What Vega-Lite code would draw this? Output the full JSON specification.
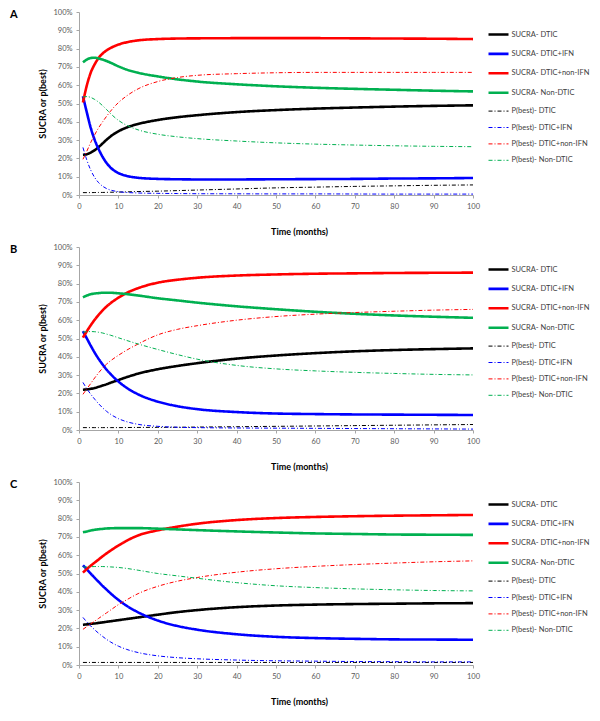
{
"$schema": "https://vega.github.io/schema/vega-lite/v6.json",
"padding": {"left": 10, "top": 8, "right": 0, "bottom": 0},
"spacing": 6,
"data": {"values": [
{"panel":"A","series":"SUCRA- DTIC","t":1,"v":22},{"panel":"A","series":"SUCRA- DTIC","t":2,"v":22.3},{"panel":"A","series":"SUCRA- DTIC","t":3,"v":23.2},{"panel":"A","series":"SUCRA- DTIC","t":4,"v":24.5},{"panel":"A","series":"SUCRA- DTIC","t":5,"v":26.2},{"panel":"A","series":"SUCRA- DTIC","t":6,"v":28.2},{"panel":"A","series":"SUCRA- DTIC","t":7,"v":30.2},{"panel":"A","series":"SUCRA- DTIC","t":8,"v":32},{"panel":"A","series":"SUCRA- DTIC","t":10,"v":34.8},{"panel":"A","series":"SUCRA- DTIC","t":12,"v":36.8},{"panel":"A","series":"SUCRA- DTIC","t":15,"v":38.8},{"panel":"A","series":"SUCRA- DTIC","t":20,"v":41},{"panel":"A","series":"SUCRA- DTIC","t":25,"v":42.5},{"panel":"A","series":"SUCRA- DTIC","t":30,"v":43.6},{"panel":"A","series":"SUCRA- DTIC","t":40,"v":45.3},{"panel":"A","series":"SUCRA- DTIC","t":50,"v":46.4},{"panel":"A","series":"SUCRA- DTIC","t":60,"v":47.2},{"panel":"A","series":"SUCRA- DTIC","t":70,"v":47.8},{"panel":"A","series":"SUCRA- DTIC","t":80,"v":48.3},{"panel":"A","series":"SUCRA- DTIC","t":90,"v":48.7},{"panel":"A","series":"SUCRA- DTIC","t":100,"v":49},
{"panel":"A","series":"SUCRA- DTIC+IFN","t":1,"v":54},{"panel":"A","series":"SUCRA- DTIC+IFN","t":2,"v":45},{"panel":"A","series":"SUCRA- DTIC+IFN","t":3,"v":36.5},{"panel":"A","series":"SUCRA- DTIC+IFN","t":4,"v":30},{"panel":"A","series":"SUCRA- DTIC+IFN","t":5,"v":25},{"panel":"A","series":"SUCRA- DTIC+IFN","t":6,"v":20.8},{"panel":"A","series":"SUCRA- DTIC+IFN","t":7,"v":17.5},{"panel":"A","series":"SUCRA- DTIC+IFN","t":8,"v":15},{"panel":"A","series":"SUCRA- DTIC+IFN","t":10,"v":12},{"panel":"A","series":"SUCRA- DTIC+IFN","t":12,"v":10.5},{"panel":"A","series":"SUCRA- DTIC+IFN","t":15,"v":9.4},{"panel":"A","series":"SUCRA- DTIC+IFN","t":20,"v":8.8},{"panel":"A","series":"SUCRA- DTIC+IFN","t":25,"v":8.6},{"panel":"A","series":"SUCRA- DTIC+IFN","t":30,"v":8.5},{"panel":"A","series":"SUCRA- DTIC+IFN","t":40,"v":8.5},{"panel":"A","series":"SUCRA- DTIC+IFN","t":50,"v":8.6},{"panel":"A","series":"SUCRA- DTIC+IFN","t":60,"v":8.7},{"panel":"A","series":"SUCRA- DTIC+IFN","t":70,"v":8.8},{"panel":"A","series":"SUCRA- DTIC+IFN","t":80,"v":9},{"panel":"A","series":"SUCRA- DTIC+IFN","t":90,"v":9.1},{"panel":"A","series":"SUCRA- DTIC+IFN","t":100,"v":9.3},
{"panel":"A","series":"SUCRA- DTIC+non-IFN","t":1,"v":50.5},{"panel":"A","series":"SUCRA- DTIC+non-IFN","t":2,"v":60},{"panel":"A","series":"SUCRA- DTIC+non-IFN","t":3,"v":67},{"panel":"A","series":"SUCRA- DTIC+non-IFN","t":4,"v":71.5},{"panel":"A","series":"SUCRA- DTIC+non-IFN","t":5,"v":75},{"panel":"A","series":"SUCRA- DTIC+non-IFN","t":6,"v":77.3},{"panel":"A","series":"SUCRA- DTIC+non-IFN","t":7,"v":79},{"panel":"A","series":"SUCRA- DTIC+non-IFN","t":8,"v":80.3},{"panel":"A","series":"SUCRA- DTIC+non-IFN","t":10,"v":82.2},{"panel":"A","series":"SUCRA- DTIC+non-IFN","t":12,"v":83.4},{"panel":"A","series":"SUCRA- DTIC+non-IFN","t":15,"v":84.5},{"panel":"A","series":"SUCRA- DTIC+non-IFN","t":20,"v":85.2},{"panel":"A","series":"SUCRA- DTIC+non-IFN","t":25,"v":85.5},{"panel":"A","series":"SUCRA- DTIC+non-IFN","t":30,"v":85.6},{"panel":"A","series":"SUCRA- DTIC+non-IFN","t":40,"v":85.7},{"panel":"A","series":"SUCRA- DTIC+non-IFN","t":50,"v":85.7},{"panel":"A","series":"SUCRA- DTIC+non-IFN","t":60,"v":85.7},{"panel":"A","series":"SUCRA- DTIC+non-IFN","t":70,"v":85.6},{"panel":"A","series":"SUCRA- DTIC+non-IFN","t":80,"v":85.5},{"panel":"A","series":"SUCRA- DTIC+non-IFN","t":90,"v":85.4},{"panel":"A","series":"SUCRA- DTIC+non-IFN","t":100,"v":85.2},
{"panel":"A","series":"SUCRA- Non-DTIC","t":1,"v":72.5},{"panel":"A","series":"SUCRA- Non-DTIC","t":2,"v":74},{"panel":"A","series":"SUCRA- Non-DTIC","t":3,"v":74.9},{"panel":"A","series":"SUCRA- Non-DTIC","t":4,"v":75},{"panel":"A","series":"SUCRA- Non-DTIC","t":5,"v":74.6},{"panel":"A","series":"SUCRA- Non-DTIC","t":6,"v":74},{"panel":"A","series":"SUCRA- Non-DTIC","t":7,"v":73.2},{"panel":"A","series":"SUCRA- Non-DTIC","t":8,"v":72.3},{"panel":"A","series":"SUCRA- Non-DTIC","t":10,"v":70.3},{"panel":"A","series":"SUCRA- Non-DTIC","t":12,"v":68.6},{"panel":"A","series":"SUCRA- Non-DTIC","t":15,"v":66.8},{"panel":"A","series":"SUCRA- Non-DTIC","t":20,"v":64.8},{"panel":"A","series":"SUCRA- Non-DTIC","t":25,"v":63.2},{"panel":"A","series":"SUCRA- Non-DTIC","t":30,"v":62},{"panel":"A","series":"SUCRA- Non-DTIC","t":40,"v":60.5},{"panel":"A","series":"SUCRA- Non-DTIC","t":50,"v":59.4},{"panel":"A","series":"SUCRA- Non-DTIC","t":60,"v":58.6},{"panel":"A","series":"SUCRA- Non-DTIC","t":70,"v":58},{"panel":"A","series":"SUCRA- Non-DTIC","t":80,"v":57.5},{"panel":"A","series":"SUCRA- Non-DTIC","t":90,"v":57},{"panel":"A","series":"SUCRA- Non-DTIC","t":100,"v":56.6},
{"panel":"A","series":"P(best)- DTIC","t":1,"v":1.3},{"panel":"A","series":"P(best)- DTIC","t":2,"v":1.3},{"panel":"A","series":"P(best)- DTIC","t":3,"v":1.3},{"panel":"A","series":"P(best)- DTIC","t":4,"v":1.35},{"panel":"A","series":"P(best)- DTIC","t":5,"v":1.4},{"panel":"A","series":"P(best)- DTIC","t":6,"v":1.4},{"panel":"A","series":"P(best)- DTIC","t":7,"v":1.45},{"panel":"A","series":"P(best)- DTIC","t":8,"v":1.5},{"panel":"A","series":"P(best)- DTIC","t":10,"v":1.6},{"panel":"A","series":"P(best)- DTIC","t":12,"v":1.7},{"panel":"A","series":"P(best)- DTIC","t":15,"v":1.9},{"panel":"A","series":"P(best)- DTIC","t":20,"v":2.1},{"panel":"A","series":"P(best)- DTIC","t":25,"v":2.4},{"panel":"A","series":"P(best)- DTIC","t":30,"v":2.7},{"panel":"A","series":"P(best)- DTIC","t":40,"v":3.3},{"panel":"A","series":"P(best)- DTIC","t":50,"v":3.9},{"panel":"A","series":"P(best)- DTIC","t":60,"v":4.3},{"panel":"A","series":"P(best)- DTIC","t":70,"v":4.7},{"panel":"A","series":"P(best)- DTIC","t":80,"v":5},{"panel":"A","series":"P(best)- DTIC","t":90,"v":5.3},{"panel":"A","series":"P(best)- DTIC","t":100,"v":5.5},
{"panel":"A","series":"P(best)- DTIC+IFN","t":1,"v":26},{"panel":"A","series":"P(best)- DTIC+IFN","t":2,"v":19},{"panel":"A","series":"P(best)- DTIC+IFN","t":3,"v":13.5},{"panel":"A","series":"P(best)- DTIC+IFN","t":4,"v":9.5},{"panel":"A","series":"P(best)- DTIC+IFN","t":5,"v":6.7},{"panel":"A","series":"P(best)- DTIC+IFN","t":6,"v":4.8},{"panel":"A","series":"P(best)- DTIC+IFN","t":7,"v":3.5},{"panel":"A","series":"P(best)- DTIC+IFN","t":8,"v":2.7},{"panel":"A","series":"P(best)- DTIC+IFN","t":10,"v":1.8},{"panel":"A","series":"P(best)- DTIC+IFN","t":12,"v":1.4},{"panel":"A","series":"P(best)- DTIC+IFN","t":15,"v":1.1},{"panel":"A","series":"P(best)- DTIC+IFN","t":20,"v":0.9},{"panel":"A","series":"P(best)- DTIC+IFN","t":25,"v":0.8},{"panel":"A","series":"P(best)- DTIC+IFN","t":30,"v":0.7},{"panel":"A","series":"P(best)- DTIC+IFN","t":40,"v":0.65},{"panel":"A","series":"P(best)- DTIC+IFN","t":50,"v":0.6},{"panel":"A","series":"P(best)- DTIC+IFN","t":60,"v":0.6},{"panel":"A","series":"P(best)- DTIC+IFN","t":70,"v":0.55},{"panel":"A","series":"P(best)- DTIC+IFN","t":80,"v":0.5},{"panel":"A","series":"P(best)- DTIC+IFN","t":90,"v":0.5},{"panel":"A","series":"P(best)- DTIC+IFN","t":100,"v":0.5},
{"panel":"A","series":"P(best)- DTIC+non-IFN","t":1,"v":19.5},{"panel":"A","series":"P(best)- DTIC+non-IFN","t":2,"v":24},{"panel":"A","series":"P(best)- DTIC+non-IFN","t":3,"v":28.8},{"panel":"A","series":"P(best)- DTIC+non-IFN","t":4,"v":33},{"panel":"A","series":"P(best)- DTIC+non-IFN","t":5,"v":36.8},{"panel":"A","series":"P(best)- DTIC+non-IFN","t":6,"v":40},{"panel":"A","series":"P(best)- DTIC+non-IFN","t":7,"v":43},{"panel":"A","series":"P(best)- DTIC+non-IFN","t":8,"v":45.8},{"panel":"A","series":"P(best)- DTIC+non-IFN","t":10,"v":50.5},{"panel":"A","series":"P(best)- DTIC+non-IFN","t":12,"v":54},{"panel":"A","series":"P(best)- DTIC+non-IFN","t":15,"v":58},{"panel":"A","series":"P(best)- DTIC+non-IFN","t":20,"v":62},{"panel":"A","series":"P(best)- DTIC+non-IFN","t":25,"v":64.2},{"panel":"A","series":"P(best)- DTIC+non-IFN","t":30,"v":65.4},{"panel":"A","series":"P(best)- DTIC+non-IFN","t":40,"v":66.3},{"panel":"A","series":"P(best)- DTIC+non-IFN","t":50,"v":66.8},{"panel":"A","series":"P(best)- DTIC+non-IFN","t":60,"v":67},{"panel":"A","series":"P(best)- DTIC+non-IFN","t":70,"v":67},{"panel":"A","series":"P(best)- DTIC+non-IFN","t":80,"v":67},{"panel":"A","series":"P(best)- DTIC+non-IFN","t":90,"v":67},{"panel":"A","series":"P(best)- DTIC+non-IFN","t":100,"v":67},
{"panel":"A","series":"P(best)- Non-DTIC","t":1,"v":53.5},{"panel":"A","series":"P(best)- Non-DTIC","t":2,"v":53.8},{"panel":"A","series":"P(best)- Non-DTIC","t":3,"v":53.3},{"panel":"A","series":"P(best)- Non-DTIC","t":4,"v":52.2},{"panel":"A","series":"P(best)- Non-DTIC","t":5,"v":50.7},{"panel":"A","series":"P(best)- Non-DTIC","t":6,"v":48.8},{"panel":"A","series":"P(best)- Non-DTIC","t":7,"v":46.7},{"panel":"A","series":"P(best)- Non-DTIC","t":8,"v":44.5},{"panel":"A","series":"P(best)- Non-DTIC","t":10,"v":40.8},{"panel":"A","series":"P(best)- Non-DTIC","t":12,"v":38.2},{"panel":"A","series":"P(best)- Non-DTIC","t":15,"v":35.6},{"panel":"A","series":"P(best)- Non-DTIC","t":20,"v":33.2},{"panel":"A","series":"P(best)- Non-DTIC","t":25,"v":31.8},{"panel":"A","series":"P(best)- Non-DTIC","t":30,"v":30.8},{"panel":"A","series":"P(best)- Non-DTIC","t":40,"v":29.5},{"panel":"A","series":"P(best)- Non-DTIC","t":50,"v":28.5},{"panel":"A","series":"P(best)- Non-DTIC","t":60,"v":27.8},{"panel":"A","series":"P(best)- Non-DTIC","t":70,"v":27.3},{"panel":"A","series":"P(best)- Non-DTIC","t":80,"v":26.9},{"panel":"A","series":"P(best)- Non-DTIC","t":90,"v":26.6},{"panel":"A","series":"P(best)- Non-DTIC","t":100,"v":26.4},
{"panel":"B","series":"SUCRA- DTIC","t":1,"v":22},{"panel":"B","series":"SUCRA- DTIC","t":2,"v":22.2},{"panel":"B","series":"SUCRA- DTIC","t":3,"v":22.5},{"panel":"B","series":"SUCRA- DTIC","t":4,"v":23},{"panel":"B","series":"SUCRA- DTIC","t":5,"v":23.6},{"panel":"B","series":"SUCRA- DTIC","t":6,"v":24.3},{"panel":"B","series":"SUCRA- DTIC","t":7,"v":25},{"panel":"B","series":"SUCRA- DTIC","t":8,"v":25.8},{"panel":"B","series":"SUCRA- DTIC","t":10,"v":27.3},{"panel":"B","series":"SUCRA- DTIC","t":12,"v":28.8},{"panel":"B","series":"SUCRA- DTIC","t":15,"v":30.8},{"panel":"B","series":"SUCRA- DTIC","t":20,"v":33.2},{"panel":"B","series":"SUCRA- DTIC","t":25,"v":35},{"panel":"B","series":"SUCRA- DTIC","t":30,"v":36.5},{"panel":"B","series":"SUCRA- DTIC","t":40,"v":39},{"panel":"B","series":"SUCRA- DTIC","t":50,"v":40.7},{"panel":"B","series":"SUCRA- DTIC","t":60,"v":42},{"panel":"B","series":"SUCRA- DTIC","t":70,"v":43},{"panel":"B","series":"SUCRA- DTIC","t":80,"v":43.7},{"panel":"B","series":"SUCRA- DTIC","t":90,"v":44.2},{"panel":"B","series":"SUCRA- DTIC","t":100,"v":44.6},
{"panel":"B","series":"SUCRA- DTIC+IFN","t":1,"v":54},{"panel":"B","series":"SUCRA- DTIC+IFN","t":2,"v":50},{"panel":"B","series":"SUCRA- DTIC+IFN","t":3,"v":46},{"panel":"B","series":"SUCRA- DTIC+IFN","t":4,"v":42.2},{"panel":"B","series":"SUCRA- DTIC+IFN","t":5,"v":38.8},{"panel":"B","series":"SUCRA- DTIC+IFN","t":6,"v":35.8},{"panel":"B","series":"SUCRA- DTIC+IFN","t":7,"v":33},{"panel":"B","series":"SUCRA- DTIC+IFN","t":8,"v":30.6},{"panel":"B","series":"SUCRA- DTIC+IFN","t":10,"v":26.5},{"panel":"B","series":"SUCRA- DTIC+IFN","t":12,"v":23.2},{"panel":"B","series":"SUCRA- DTIC+IFN","t":15,"v":19.5},{"panel":"B","series":"SUCRA- DTIC+IFN","t":20,"v":15.5},{"panel":"B","series":"SUCRA- DTIC+IFN","t":25,"v":13},{"panel":"B","series":"SUCRA- DTIC+IFN","t":30,"v":11.4},{"panel":"B","series":"SUCRA- DTIC+IFN","t":40,"v":9.8},{"panel":"B","series":"SUCRA- DTIC+IFN","t":50,"v":9},{"panel":"B","series":"SUCRA- DTIC+IFN","t":60,"v":8.7},{"panel":"B","series":"SUCRA- DTIC+IFN","t":70,"v":8.5},{"panel":"B","series":"SUCRA- DTIC+IFN","t":80,"v":8.4},{"panel":"B","series":"SUCRA- DTIC+IFN","t":90,"v":8.3},{"panel":"B","series":"SUCRA- DTIC+IFN","t":100,"v":8.2},
{"panel":"B","series":"SUCRA- DTIC+non-IFN","t":1,"v":50.5},{"panel":"B","series":"SUCRA- DTIC+non-IFN","t":2,"v":54},{"panel":"B","series":"SUCRA- DTIC+non-IFN","t":3,"v":57.3},{"panel":"B","series":"SUCRA- DTIC+non-IFN","t":4,"v":60.3},{"panel":"B","series":"SUCRA- DTIC+non-IFN","t":5,"v":63},{"panel":"B","series":"SUCRA- DTIC+non-IFN","t":6,"v":65.4},{"panel":"B","series":"SUCRA- DTIC+non-IFN","t":7,"v":67.5},{"panel":"B","series":"SUCRA- DTIC+non-IFN","t":8,"v":69.3},{"panel":"B","series":"SUCRA- DTIC+non-IFN","t":10,"v":72.3},{"panel":"B","series":"SUCRA- DTIC+non-IFN","t":12,"v":74.8},{"panel":"B","series":"SUCRA- DTIC+non-IFN","t":15,"v":77.5},{"panel":"B","series":"SUCRA- DTIC+non-IFN","t":20,"v":80.5},{"panel":"B","series":"SUCRA- DTIC+non-IFN","t":25,"v":82.1},{"panel":"B","series":"SUCRA- DTIC+non-IFN","t":30,"v":83.2},{"panel":"B","series":"SUCRA- DTIC+non-IFN","t":40,"v":84.4},{"panel":"B","series":"SUCRA- DTIC+non-IFN","t":50,"v":85},{"panel":"B","series":"SUCRA- DTIC+non-IFN","t":60,"v":85.4},{"panel":"B","series":"SUCRA- DTIC+non-IFN","t":70,"v":85.6},{"panel":"B","series":"SUCRA- DTIC+non-IFN","t":80,"v":85.8},{"panel":"B","series":"SUCRA- DTIC+non-IFN","t":90,"v":85.9},{"panel":"B","series":"SUCRA- DTIC+non-IFN","t":100,"v":86},
{"panel":"B","series":"SUCRA- Non-DTIC","t":1,"v":72.5},{"panel":"B","series":"SUCRA- Non-DTIC","t":2,"v":73.5},{"panel":"B","series":"SUCRA- Non-DTIC","t":3,"v":74.2},{"panel":"B","series":"SUCRA- Non-DTIC","t":4,"v":74.6},{"panel":"B","series":"SUCRA- Non-DTIC","t":5,"v":74.8},{"panel":"B","series":"SUCRA- Non-DTIC","t":6,"v":75},{"panel":"B","series":"SUCRA- Non-DTIC","t":7,"v":75},{"panel":"B","series":"SUCRA- Non-DTIC","t":8,"v":75},{"panel":"B","series":"SUCRA- Non-DTIC","t":10,"v":74.7},{"panel":"B","series":"SUCRA- Non-DTIC","t":12,"v":74.3},{"panel":"B","series":"SUCRA- Non-DTIC","t":15,"v":73.5},{"panel":"B","series":"SUCRA- Non-DTIC","t":20,"v":72},{"panel":"B","series":"SUCRA- Non-DTIC","t":25,"v":70.8},{"panel":"B","series":"SUCRA- Non-DTIC","t":30,"v":69.6},{"panel":"B","series":"SUCRA- Non-DTIC","t":40,"v":67.6},{"panel":"B","series":"SUCRA- Non-DTIC","t":50,"v":66},{"panel":"B","series":"SUCRA- Non-DTIC","t":60,"v":64.6},{"panel":"B","series":"SUCRA- Non-DTIC","t":70,"v":63.5},{"panel":"B","series":"SUCRA- Non-DTIC","t":80,"v":62.6},{"panel":"B","series":"SUCRA- Non-DTIC","t":90,"v":61.9},{"panel":"B","series":"SUCRA- Non-DTIC","t":100,"v":61.3},
{"panel":"B","series":"P(best)- DTIC","t":1,"v":1.3},{"panel":"B","series":"P(best)- DTIC","t":2,"v":1.3},{"panel":"B","series":"P(best)- DTIC","t":3,"v":1.3},{"panel":"B","series":"P(best)- DTIC","t":4,"v":1.3},{"panel":"B","series":"P(best)- DTIC","t":5,"v":1.3},{"panel":"B","series":"P(best)- DTIC","t":6,"v":1.3},{"panel":"B","series":"P(best)- DTIC","t":7,"v":1.3},{"panel":"B","series":"P(best)- DTIC","t":8,"v":1.3},{"panel":"B","series":"P(best)- DTIC","t":10,"v":1.3},{"panel":"B","series":"P(best)- DTIC","t":12,"v":1.35},{"panel":"B","series":"P(best)- DTIC","t":15,"v":1.4},{"panel":"B","series":"P(best)- DTIC","t":20,"v":1.45},{"panel":"B","series":"P(best)- DTIC","t":25,"v":1.5},{"panel":"B","series":"P(best)- DTIC","t":30,"v":1.6},{"panel":"B","series":"P(best)- DTIC","t":40,"v":1.8},{"panel":"B","series":"P(best)- DTIC","t":50,"v":2},{"panel":"B","series":"P(best)- DTIC","t":60,"v":2.2},{"panel":"B","series":"P(best)- DTIC","t":70,"v":2.4},{"panel":"B","series":"P(best)- DTIC","t":80,"v":2.6},{"panel":"B","series":"P(best)- DTIC","t":90,"v":2.8},{"panel":"B","series":"P(best)- DTIC","t":100,"v":3},
{"panel":"B","series":"P(best)- DTIC+IFN","t":1,"v":26},{"panel":"B","series":"P(best)- DTIC+IFN","t":2,"v":22.5},{"panel":"B","series":"P(best)- DTIC+IFN","t":3,"v":19.5},{"panel":"B","series":"P(best)- DTIC+IFN","t":4,"v":16.8},{"panel":"B","series":"P(best)- DTIC+IFN","t":5,"v":14.3},{"panel":"B","series":"P(best)- DTIC+IFN","t":6,"v":12.1},{"panel":"B","series":"P(best)- DTIC+IFN","t":7,"v":10.2},{"panel":"B","series":"P(best)- DTIC+IFN","t":8,"v":8.6},{"panel":"B","series":"P(best)- DTIC+IFN","t":10,"v":6.2},{"panel":"B","series":"P(best)- DTIC+IFN","t":12,"v":4.6},{"panel":"B","series":"P(best)- DTIC+IFN","t":15,"v":3.1},{"panel":"B","series":"P(best)- DTIC+IFN","t":20,"v":2},{"panel":"B","series":"P(best)- DTIC+IFN","t":25,"v":1.5},{"panel":"B","series":"P(best)- DTIC+IFN","t":30,"v":1.3},{"panel":"B","series":"P(best)- DTIC+IFN","t":40,"v":1.1},{"panel":"B","series":"P(best)- DTIC+IFN","t":50,"v":1},{"panel":"B","series":"P(best)- DTIC+IFN","t":60,"v":0.9},{"panel":"B","series":"P(best)- DTIC+IFN","t":70,"v":0.8},{"panel":"B","series":"P(best)- DTIC+IFN","t":80,"v":0.7},{"panel":"B","series":"P(best)- DTIC+IFN","t":90,"v":0.6},{"panel":"B","series":"P(best)- DTIC+IFN","t":100,"v":0.5},
{"panel":"B","series":"P(best)- DTIC+non-IFN","t":1,"v":19.5},{"panel":"B","series":"P(best)- DTIC+non-IFN","t":2,"v":22.5},{"panel":"B","series":"P(best)- DTIC+non-IFN","t":3,"v":25.5},{"panel":"B","series":"P(best)- DTIC+non-IFN","t":4,"v":28.5},{"panel":"B","series":"P(best)- DTIC+non-IFN","t":5,"v":31.3},{"panel":"B","series":"P(best)- DTIC+non-IFN","t":6,"v":33.8},{"panel":"B","series":"P(best)- DTIC+non-IFN","t":7,"v":36},{"panel":"B","series":"P(best)- DTIC+non-IFN","t":8,"v":37.8},{"panel":"B","series":"P(best)- DTIC+non-IFN","t":10,"v":40.8},{"panel":"B","series":"P(best)- DTIC+non-IFN","t":12,"v":43.5},{"panel":"B","series":"P(best)- DTIC+non-IFN","t":15,"v":47},{"panel":"B","series":"P(best)- DTIC+non-IFN","t":20,"v":52},{"panel":"B","series":"P(best)- DTIC+non-IFN","t":25,"v":55},{"panel":"B","series":"P(best)- DTIC+non-IFN","t":30,"v":57},{"panel":"B","series":"P(best)- DTIC+non-IFN","t":40,"v":60},{"panel":"B","series":"P(best)- DTIC+non-IFN","t":50,"v":62},{"panel":"B","series":"P(best)- DTIC+non-IFN","t":60,"v":63.3},{"panel":"B","series":"P(best)- DTIC+non-IFN","t":70,"v":64.2},{"panel":"B","series":"P(best)- DTIC+non-IFN","t":80,"v":64.9},{"panel":"B","series":"P(best)- DTIC+non-IFN","t":90,"v":65.5},{"panel":"B","series":"P(best)- DTIC+non-IFN","t":100,"v":65.9},
{"panel":"B","series":"P(best)- Non-DTIC","t":1,"v":53.5},{"panel":"B","series":"P(best)- Non-DTIC","t":2,"v":53.7},{"panel":"B","series":"P(best)- Non-DTIC","t":3,"v":53.8},{"panel":"B","series":"P(best)- Non-DTIC","t":4,"v":53.7},{"panel":"B","series":"P(best)- Non-DTIC","t":5,"v":53.4},{"panel":"B","series":"P(best)- Non-DTIC","t":6,"v":53},{"panel":"B","series":"P(best)- Non-DTIC","t":7,"v":52.4},{"panel":"B","series":"P(best)- Non-DTIC","t":8,"v":51.8},{"panel":"B","series":"P(best)- Non-DTIC","t":10,"v":50.4},{"panel":"B","series":"P(best)- Non-DTIC","t":12,"v":49},{"panel":"B","series":"P(best)- Non-DTIC","t":15,"v":47},{"panel":"B","series":"P(best)- Non-DTIC","t":20,"v":44},{"panel":"B","series":"P(best)- Non-DTIC","t":25,"v":41.2},{"panel":"B","series":"P(best)- Non-DTIC","t":30,"v":38.7},{"panel":"B","series":"P(best)- Non-DTIC","t":40,"v":35.3},{"panel":"B","series":"P(best)- Non-DTIC","t":50,"v":33.4},{"panel":"B","series":"P(best)- Non-DTIC","t":60,"v":32.3},{"panel":"B","series":"P(best)- Non-DTIC","t":70,"v":31.5},{"panel":"B","series":"P(best)- Non-DTIC","t":80,"v":30.9},{"panel":"B","series":"P(best)- Non-DTIC","t":90,"v":30.4},{"panel":"B","series":"P(best)- Non-DTIC","t":100,"v":30.1},
{"panel":"C","series":"SUCRA- DTIC","t":1,"v":22},{"panel":"C","series":"SUCRA- DTIC","t":2,"v":22.2},{"panel":"C","series":"SUCRA- DTIC","t":3,"v":22.5},{"panel":"C","series":"SUCRA- DTIC","t":4,"v":22.7},{"panel":"C","series":"SUCRA- DTIC","t":5,"v":23},{"panel":"C","series":"SUCRA- DTIC","t":6,"v":23.3},{"panel":"C","series":"SUCRA- DTIC","t":7,"v":23.6},{"panel":"C","series":"SUCRA- DTIC","t":8,"v":23.9},{"panel":"C","series":"SUCRA- DTIC","t":10,"v":24.5},{"panel":"C","series":"SUCRA- DTIC","t":12,"v":25.1},{"panel":"C","series":"SUCRA- DTIC","t":15,"v":26},{"panel":"C","series":"SUCRA- DTIC","t":20,"v":27.5},{"panel":"C","series":"SUCRA- DTIC","t":25,"v":28.9},{"panel":"C","series":"SUCRA- DTIC","t":30,"v":30},{"panel":"C","series":"SUCRA- DTIC","t":40,"v":31.6},{"panel":"C","series":"SUCRA- DTIC","t":50,"v":32.5},{"panel":"C","series":"SUCRA- DTIC","t":60,"v":33},{"panel":"C","series":"SUCRA- DTIC","t":70,"v":33.3},{"panel":"C","series":"SUCRA- DTIC","t":80,"v":33.5},{"panel":"C","series":"SUCRA- DTIC","t":90,"v":33.7},{"panel":"C","series":"SUCRA- DTIC","t":100,"v":33.8},
{"panel":"C","series":"SUCRA- DTIC+IFN","t":1,"v":54.5},{"panel":"C","series":"SUCRA- DTIC+IFN","t":2,"v":52.2},{"panel":"C","series":"SUCRA- DTIC+IFN","t":3,"v":49.9},{"panel":"C","series":"SUCRA- DTIC+IFN","t":4,"v":47.6},{"panel":"C","series":"SUCRA- DTIC+IFN","t":5,"v":45.4},{"panel":"C","series":"SUCRA- DTIC+IFN","t":6,"v":43.2},{"panel":"C","series":"SUCRA- DTIC+IFN","t":7,"v":41.2},{"panel":"C","series":"SUCRA- DTIC+IFN","t":8,"v":39.2},{"panel":"C","series":"SUCRA- DTIC+IFN","t":10,"v":35.6},{"panel":"C","series":"SUCRA- DTIC+IFN","t":12,"v":32.5},{"panel":"C","series":"SUCRA- DTIC+IFN","t":15,"v":28.8},{"panel":"C","series":"SUCRA- DTIC+IFN","t":20,"v":24.3},{"panel":"C","series":"SUCRA- DTIC+IFN","t":25,"v":21.3},{"panel":"C","series":"SUCRA- DTIC+IFN","t":30,"v":19.3},{"panel":"C","series":"SUCRA- DTIC+IFN","t":40,"v":16.8},{"panel":"C","series":"SUCRA- DTIC+IFN","t":50,"v":15.4},{"panel":"C","series":"SUCRA- DTIC+IFN","t":60,"v":14.7},{"panel":"C","series":"SUCRA- DTIC+IFN","t":70,"v":14.3},{"panel":"C","series":"SUCRA- DTIC+IFN","t":80,"v":14},{"panel":"C","series":"SUCRA- DTIC+IFN","t":90,"v":13.9},{"panel":"C","series":"SUCRA- DTIC+IFN","t":100,"v":13.8},
{"panel":"C","series":"SUCRA- DTIC+non-IFN","t":1,"v":50.5},{"panel":"C","series":"SUCRA- DTIC+non-IFN","t":2,"v":52.5},{"panel":"C","series":"SUCRA- DTIC+non-IFN","t":3,"v":54.3},{"panel":"C","series":"SUCRA- DTIC+non-IFN","t":4,"v":56},{"panel":"C","series":"SUCRA- DTIC+non-IFN","t":5,"v":57.7},{"panel":"C","series":"SUCRA- DTIC+non-IFN","t":6,"v":59.4},{"panel":"C","series":"SUCRA- DTIC+non-IFN","t":7,"v":61},{"panel":"C","series":"SUCRA- DTIC+non-IFN","t":8,"v":62.5},{"panel":"C","series":"SUCRA- DTIC+non-IFN","t":10,"v":65.3},{"panel":"C","series":"SUCRA- DTIC+non-IFN","t":12,"v":67.8},{"panel":"C","series":"SUCRA- DTIC+non-IFN","t":15,"v":70.8},{"panel":"C","series":"SUCRA- DTIC+non-IFN","t":20,"v":73.6},{"panel":"C","series":"SUCRA- DTIC+non-IFN","t":25,"v":75.6},{"panel":"C","series":"SUCRA- DTIC+non-IFN","t":30,"v":77.2},{"panel":"C","series":"SUCRA- DTIC+non-IFN","t":40,"v":79.2},{"panel":"C","series":"SUCRA- DTIC+non-IFN","t":50,"v":80.3},{"panel":"C","series":"SUCRA- DTIC+non-IFN","t":60,"v":80.9},{"panel":"C","series":"SUCRA- DTIC+non-IFN","t":70,"v":81.3},{"panel":"C","series":"SUCRA- DTIC+non-IFN","t":80,"v":81.6},{"panel":"C","series":"SUCRA- DTIC+non-IFN","t":90,"v":81.8},{"panel":"C","series":"SUCRA- DTIC+non-IFN","t":100,"v":82},
{"panel":"C","series":"SUCRA- Non-DTIC","t":1,"v":72.5},{"panel":"C","series":"SUCRA- Non-DTIC","t":2,"v":73},{"panel":"C","series":"SUCRA- Non-DTIC","t":3,"v":73.5},{"panel":"C","series":"SUCRA- Non-DTIC","t":4,"v":73.9},{"panel":"C","series":"SUCRA- Non-DTIC","t":5,"v":74.2},{"panel":"C","series":"SUCRA- Non-DTIC","t":6,"v":74.4},{"panel":"C","series":"SUCRA- Non-DTIC","t":7,"v":74.6},{"panel":"C","series":"SUCRA- Non-DTIC","t":8,"v":74.7},{"panel":"C","series":"SUCRA- Non-DTIC","t":10,"v":74.8},{"panel":"C","series":"SUCRA- Non-DTIC","t":12,"v":74.8},{"panel":"C","series":"SUCRA- Non-DTIC","t":15,"v":74.8},{"panel":"C","series":"SUCRA- Non-DTIC","t":20,"v":74.5},{"panel":"C","series":"SUCRA- Non-DTIC","t":25,"v":74.1},{"panel":"C","series":"SUCRA- Non-DTIC","t":30,"v":73.7},{"panel":"C","series":"SUCRA- Non-DTIC","t":40,"v":73},{"panel":"C","series":"SUCRA- Non-DTIC","t":50,"v":72.4},{"panel":"C","series":"SUCRA- Non-DTIC","t":60,"v":71.9},{"panel":"C","series":"SUCRA- Non-DTIC","t":70,"v":71.6},{"panel":"C","series":"SUCRA- Non-DTIC","t":80,"v":71.3},{"panel":"C","series":"SUCRA- Non-DTIC","t":90,"v":71.2},{"panel":"C","series":"SUCRA- Non-DTIC","t":100,"v":71.1},
{"panel":"C","series":"P(best)- DTIC","t":1,"v":1.4},{"panel":"C","series":"P(best)- DTIC","t":5,"v":1.4},{"panel":"C","series":"P(best)- DTIC","t":10,"v":1.4},{"panel":"C","series":"P(best)- DTIC","t":20,"v":1.4},{"panel":"C","series":"P(best)- DTIC","t":30,"v":1.4},{"panel":"C","series":"P(best)- DTIC","t":40,"v":1.4},{"panel":"C","series":"P(best)- DTIC","t":50,"v":1.4},{"panel":"C","series":"P(best)- DTIC","t":60,"v":1.4},{"panel":"C","series":"P(best)- DTIC","t":70,"v":1.4},{"panel":"C","series":"P(best)- DTIC","t":80,"v":1.4},{"panel":"C","series":"P(best)- DTIC","t":90,"v":1.4},{"panel":"C","series":"P(best)- DTIC","t":100,"v":1.4},
{"panel":"C","series":"P(best)- DTIC+IFN","t":1,"v":26},{"panel":"C","series":"P(best)- DTIC+IFN","t":2,"v":23.5},{"panel":"C","series":"P(best)- DTIC+IFN","t":3,"v":21.3},{"panel":"C","series":"P(best)- DTIC+IFN","t":4,"v":19.2},{"panel":"C","series":"P(best)- DTIC+IFN","t":5,"v":17.3},{"panel":"C","series":"P(best)- DTIC+IFN","t":6,"v":15.6},{"panel":"C","series":"P(best)- DTIC+IFN","t":7,"v":14},{"panel":"C","series":"P(best)- DTIC+IFN","t":8,"v":12.6},{"panel":"C","series":"P(best)- DTIC+IFN","t":10,"v":10.3},{"panel":"C","series":"P(best)- DTIC+IFN","t":12,"v":8.6},{"panel":"C","series":"P(best)- DTIC+IFN","t":15,"v":6.8},{"panel":"C","series":"P(best)- DTIC+IFN","t":20,"v":5},{"panel":"C","series":"P(best)- DTIC+IFN","t":25,"v":4},{"panel":"C","series":"P(best)- DTIC+IFN","t":30,"v":3.4},{"panel":"C","series":"P(best)- DTIC+IFN","t":40,"v":2.7},{"panel":"C","series":"P(best)- DTIC+IFN","t":50,"v":2.3},{"panel":"C","series":"P(best)- DTIC+IFN","t":60,"v":2.1},{"panel":"C","series":"P(best)- DTIC+IFN","t":70,"v":1.9},{"panel":"C","series":"P(best)- DTIC+IFN","t":80,"v":1.8},{"panel":"C","series":"P(best)- DTIC+IFN","t":90,"v":1.7},{"panel":"C","series":"P(best)- DTIC+IFN","t":100,"v":1.7},
{"panel":"C","series":"P(best)- DTIC+non-IFN","t":1,"v":19.5},{"panel":"C","series":"P(best)- DTIC+non-IFN","t":2,"v":21},{"panel":"C","series":"P(best)- DTIC+non-IFN","t":3,"v":22.5},{"panel":"C","series":"P(best)- DTIC+non-IFN","t":4,"v":24},{"panel":"C","series":"P(best)- DTIC+non-IFN","t":5,"v":25.5},{"panel":"C","series":"P(best)- DTIC+non-IFN","t":6,"v":27},{"panel":"C","series":"P(best)- DTIC+non-IFN","t":7,"v":28.5},{"panel":"C","series":"P(best)- DTIC+non-IFN","t":8,"v":30},{"panel":"C","series":"P(best)- DTIC+non-IFN","t":10,"v":33},{"panel":"C","series":"P(best)- DTIC+non-IFN","t":12,"v":35.5},{"panel":"C","series":"P(best)- DTIC+non-IFN","t":15,"v":39},{"panel":"C","series":"P(best)- DTIC+non-IFN","t":20,"v":43},{"panel":"C","series":"P(best)- DTIC+non-IFN","t":25,"v":45.8},{"panel":"C","series":"P(best)- DTIC+non-IFN","t":30,"v":47.8},{"panel":"C","series":"P(best)- DTIC+non-IFN","t":40,"v":50.7},{"panel":"C","series":"P(best)- DTIC+non-IFN","t":50,"v":52.6},{"panel":"C","series":"P(best)- DTIC+non-IFN","t":60,"v":53.9},{"panel":"C","series":"P(best)- DTIC+non-IFN","t":70,"v":54.9},{"panel":"C","series":"P(best)- DTIC+non-IFN","t":80,"v":55.7},{"panel":"C","series":"P(best)- DTIC+non-IFN","t":90,"v":56.4},{"panel":"C","series":"P(best)- DTIC+non-IFN","t":100,"v":56.9},
{"panel":"C","series":"P(best)- Non-DTIC","t":1,"v":53.5},{"panel":"C","series":"P(best)- Non-DTIC","t":2,"v":53.6},{"panel":"C","series":"P(best)- Non-DTIC","t":3,"v":53.7},{"panel":"C","series":"P(best)- Non-DTIC","t":4,"v":53.8},{"panel":"C","series":"P(best)- Non-DTIC","t":5,"v":53.8},{"panel":"C","series":"P(best)- Non-DTIC","t":6,"v":53.8},{"panel":"C","series":"P(best)- Non-DTIC","t":7,"v":53.7},{"panel":"C","series":"P(best)- Non-DTIC","t":8,"v":53.6},{"panel":"C","series":"P(best)- Non-DTIC","t":10,"v":53.3},{"panel":"C","series":"P(best)- Non-DTIC","t":12,"v":52.8},{"panel":"C","series":"P(best)- Non-DTIC","t":15,"v":51.8},{"panel":"C","series":"P(best)- Non-DTIC","t":20,"v":50},{"panel":"C","series":"P(best)- Non-DTIC","t":25,"v":48.7},{"panel":"C","series":"P(best)- Non-DTIC","t":30,"v":47.4},{"panel":"C","series":"P(best)- Non-DTIC","t":40,"v":45},{"panel":"C","series":"P(best)- Non-DTIC","t":50,"v":43.3},{"panel":"C","series":"P(best)- Non-DTIC","t":60,"v":42.3},{"panel":"C","series":"P(best)- Non-DTIC","t":70,"v":41.6},{"panel":"C","series":"P(best)- Non-DTIC","t":80,"v":41.1},{"panel":"C","series":"P(best)- Non-DTIC","t":90,"v":40.7},{"panel":"C","series":"P(best)- Non-DTIC","t":100,"v":40.5}
]},
"vconcat": [
{"title": {"text": "A"}, "width": 394, "height": 183,
 "transform": [{"filter": "datum.panel === 'A'"}],
 "mark": {"type": "line", "interpolate": "monotone"},
 "encoding": {
  "x": {"field": "t", "type": "quantitative", "scale": {"domain": [0, 100], "nice": false}, "axis": {"title": "Time (months)", "values": [0,10,20,30,40,50,60,70,80,90,100]}},
  "y": {"field": "v", "type": "quantitative", "scale": {"domain": [0, 100], "nice": false}, "axis": {"title": "SUCRA or p(best)", "values": [0,10,20,30,40,50,60,70,80,90,100]}},
  "color": {"field": "series", "type": "nominal", "legend": {"title": null}, "scale": {"domain": ["SUCRA- DTIC","SUCRA- DTIC+IFN","SUCRA- DTIC+non-IFN","SUCRA- Non-DTIC","P(best)- DTIC","P(best)- DTIC+IFN","P(best)- DTIC+non-IFN","P(best)- Non-DTIC"], "range": ["#000000","#0000ff","#ff0000","#00b050","#000000","#0000ff","#ff0000","#00b050"]}},
  "strokeDash": {"field": "series", "type": "nominal", "legend": {"title": null}, "scale": {"domain": ["SUCRA- DTIC","SUCRA- DTIC+IFN","SUCRA- DTIC+non-IFN","SUCRA- Non-DTIC","P(best)- DTIC","P(best)- DTIC+IFN","P(best)- DTIC+non-IFN","P(best)- Non-DTIC"], "range": [[1,0],[1,0],[1,0],[1,0],[4,2,1,2],[4,2,1,2],[4,2,1,2],[4,2,1,2]]}},
  "strokeWidth": {"field": "series", "type": "nominal", "legend": {"title": null}, "scale": {"type": "ordinal", "domain": ["SUCRA- DTIC","SUCRA- DTIC+IFN","SUCRA- DTIC+non-IFN","SUCRA- Non-DTIC","P(best)- DTIC","P(best)- DTIC+IFN","P(best)- DTIC+non-IFN","P(best)- Non-DTIC"], "range": [2.6,2.6,2.6,2.6,1,1,1,1]}}
 }},
{"title": {"text": "B"}, "width": 394, "height": 183,
 "transform": [{"filter": "datum.panel === 'B'"}],
 "mark": {"type": "line", "interpolate": "monotone"},
 "encoding": {
  "x": {"field": "t", "type": "quantitative", "scale": {"domain": [0, 100], "nice": false}, "axis": {"title": "Time (months)", "values": [0,10,20,30,40,50,60,70,80,90,100]}},
  "y": {"field": "v", "type": "quantitative", "scale": {"domain": [0, 100], "nice": false}, "axis": {"title": "SUCRA or p(best)", "values": [0,10,20,30,40,50,60,70,80,90,100]}},
  "color": {"field": "series", "type": "nominal", "legend": {"title": null}, "scale": {"domain": ["SUCRA- DTIC","SUCRA- DTIC+IFN","SUCRA- DTIC+non-IFN","SUCRA- Non-DTIC","P(best)- DTIC","P(best)- DTIC+IFN","P(best)- DTIC+non-IFN","P(best)- Non-DTIC"], "range": ["#000000","#0000ff","#ff0000","#00b050","#000000","#0000ff","#ff0000","#00b050"]}},
  "strokeDash": {"field": "series", "type": "nominal", "legend": {"title": null}, "scale": {"domain": ["SUCRA- DTIC","SUCRA- DTIC+IFN","SUCRA- DTIC+non-IFN","SUCRA- Non-DTIC","P(best)- DTIC","P(best)- DTIC+IFN","P(best)- DTIC+non-IFN","P(best)- Non-DTIC"], "range": [[1,0],[1,0],[1,0],[1,0],[4,2,1,2],[4,2,1,2],[4,2,1,2],[4,2,1,2]]}},
  "strokeWidth": {"field": "series", "type": "nominal", "legend": {"title": null}, "scale": {"type": "ordinal", "domain": ["SUCRA- DTIC","SUCRA- DTIC+IFN","SUCRA- DTIC+non-IFN","SUCRA- Non-DTIC","P(best)- DTIC","P(best)- DTIC+IFN","P(best)- DTIC+non-IFN","P(best)- Non-DTIC"], "range": [2.6,2.6,2.6,2.6,1,1,1,1]}}
 }},
{"title": {"text": "C"}, "width": 394, "height": 183,
 "transform": [{"filter": "datum.panel === 'C'"}],
 "mark": {"type": "line", "interpolate": "monotone"},
 "encoding": {
  "x": {"field": "t", "type": "quantitative", "scale": {"domain": [0, 100], "nice": false}, "axis": {"title": "Time (months)", "values": [0,10,20,30,40,50,60,70,80,90,100]}},
  "y": {"field": "v", "type": "quantitative", "scale": {"domain": [0, 100], "nice": false}, "axis": {"title": "SUCRA or p(best)", "values": [0,10,20,30,40,50,60,70,80,90,100]}},
  "color": {"field": "series", "type": "nominal", "legend": {"title": null}, "scale": {"domain": ["SUCRA- DTIC","SUCRA- DTIC+IFN","SUCRA- DTIC+non-IFN","SUCRA- Non-DTIC","P(best)- DTIC","P(best)- DTIC+IFN","P(best)- DTIC+non-IFN","P(best)- Non-DTIC"], "range": ["#000000","#0000ff","#ff0000","#00b050","#000000","#0000ff","#ff0000","#00b050"]}},
  "strokeDash": {"field": "series", "type": "nominal", "legend": {"title": null}, "scale": {"domain": ["SUCRA- DTIC","SUCRA- DTIC+IFN","SUCRA- DTIC+non-IFN","SUCRA- Non-DTIC","P(best)- DTIC","P(best)- DTIC+IFN","P(best)- DTIC+non-IFN","P(best)- Non-DTIC"], "range": [[1,0],[1,0],[1,0],[1,0],[4,2,1,2],[4,2,1,2],[4,2,1,2],[4,2,1,2]]}},
  "strokeWidth": {"field": "series", "type": "nominal", "legend": {"title": null}, "scale": {"type": "ordinal", "domain": ["SUCRA- DTIC","SUCRA- DTIC+IFN","SUCRA- DTIC+non-IFN","SUCRA- Non-DTIC","P(best)- DTIC","P(best)- DTIC+IFN","P(best)- DTIC+non-IFN","P(best)- Non-DTIC"], "range": [2.6,2.6,2.6,2.6,1,1,1,1]}}
 }}
],
"resolve": {"scale": {"color": "independent", "strokeDash": "independent", "strokeWidth": "independent"}},
"config": {
 "font": "Lato",
 "view": {"stroke": null},
 "title": {"anchor": "start", "frame": "group", "fontSize": 11, "fontWeight": "bold", "dx": -69, "offset": -12, "color": "#000000", "font": "Lato"},
 "axis": {"grid": false, "domainColor": "#a6a6a6", "tickColor": "#a6a6a6", "tickSize": 3, "labelFont": "Lato", "labelFontSize": 7.5, "labelColor": "#595959", "labelOverlap": false, "labelFlush": false, "titleFont": "Lato", "titleFontSize": 9, "titleFontWeight": "bold", "titleColor": "#000000"},
 "axisX": {"labelPadding": 4, "titlePadding": 18, "titleX": 220},
 "axisY": {"labelExpr": "datum.value + '%'", "labelPadding": 4, "titlePadding": 5},
 "legend": {"orient": "none", "legendX": 408, "legendY": 11, "padding": 0, "symbolSize": 400, "symbolType": "stroke", "rowPadding": 2.4, "labelOffset": 1.5, "labelFont": "Lato", "labelFontSize": 7.5, "labelColor": "#404040"}
}
}
